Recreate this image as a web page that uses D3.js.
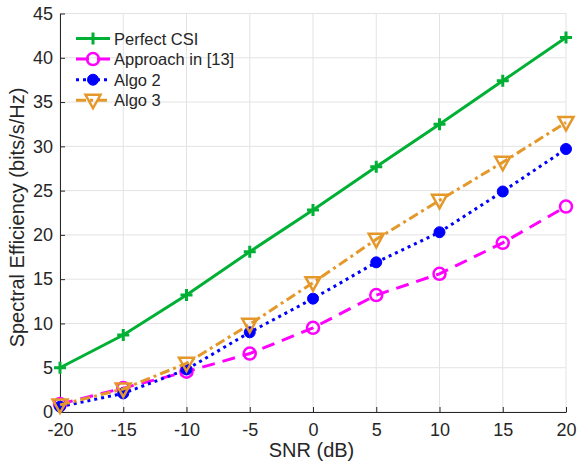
<!DOCTYPE html>
<html>
<head>
<meta charset="utf-8">
<script src="https://cdn.jsdelivr.net/npm/d3@7"></script>
<style>
  body { margin: 0; background: #fff; }
  text { font-family: "Liberation Sans", Arial, sans-serif; fill: #262626; }
</style>
</head>
<body>
<div id="chart"></div>
<script>
var snr = [-20, -15, -10, -5, 0, 5, 10, 15, 20];
var perfectCsi = [5.0, 8.7, 13.2, 18.1, 22.8, 27.7, 32.5, 37.4, 42.3];
var approach13 = [0.9, 2.7, 4.55, 6.6, 9.5, 13.2, 15.6, 19.1, 23.2];
var algo2 = [0.6, 2.1, 4.8, 9.0, 12.8, 16.9, 20.3, 24.9, 29.7];
var algo3 = [0.8, 2.6, 5.5, 9.9, 14.6, 19.5, 23.9, 28.2, 32.7];
var xTicks = [-20, -15, -10, -5, 0, 5, 10, 15, 20];
var yTicks = [0, 5, 10, 15, 20, 25, 30, 35, 40, 45];

var width = 577, height = 467;
var margin = {left: 60, right: 11, top: 13.5, bottom: 55};

var svg = d3.select('#chart').append('svg')
  .attr('width', width)
  .attr('height', height);

var x = d3.scaleLinear().domain([-20, 20]).range([margin.left, width - margin.right]);
var y = d3.scaleLinear().domain([0, 45]).range([height - margin.bottom, margin.top]);

// grid
svg.append('g').selectAll('line').data(xTicks).enter().append('line')
  .attr('x1', function(d) { return x(d); }).attr('x2', function(d) { return x(d); })
  .attr('y1', y(0)).attr('y2', y(45))
  .attr('stroke', '#e3e3e3').attr('stroke-width', 1);
svg.append('g').selectAll('line').data(yTicks).enter().append('line')
  .attr('x1', x(-20)).attr('x2', x(20))
  .attr('y1', function(d) { return y(d); }).attr('y2', function(d) { return y(d); })
  .attr('stroke', '#e3e3e3').attr('stroke-width', 1);

// axes
var fmt = function(d) { return String(d); };
var xAxis = d3.axisBottom(x).tickValues(xTicks).tickFormat(fmt).tickSizeInner(-5).tickSizeOuter(0).tickPadding(11);
var yAxis = d3.axisLeft(y).tickValues(yTicks).tickFormat(fmt).tickSizeInner(-5).tickSizeOuter(0).tickPadding(7);

var gx = svg.append('g').attr('transform', 'translate(0,' + y(0) + ')').call(xAxis);
var gy = svg.append('g').attr('transform', 'translate(' + x(-20) + ',0)').call(yAxis);
[gx, gy].forEach(function(g) {
  g.select('.domain').attr('stroke', '#262626');
  g.selectAll('.tick line').attr('stroke', '#262626');
  g.selectAll('.tick text').style('font-size', '18px').attr('fill', '#262626')
    .style('font-family', '"Liberation Sans", Arial, sans-serif');
});

svg.append('text')
  .attr('x', 311.5).attr('y', 457)
  .attr('text-anchor', 'middle')
  .style('font-size', '20px')
  .text('SNR (dB)');

svg.append('text')
  .attr('transform', 'translate(24,217.5) rotate(-90)')
  .attr('text-anchor', 'middle')
  .style('font-size', '20px')
  .text('Spectral Efficiency (bits/s/Hz)');

var series = [
  {name: 'Perfect CSI', values: perfectCsi, color: '#00b034', dash: null, marker: 'plus'},
  {name: 'Approach in [13]', values: approach13, color: '#ff00ff', dash: '13,8', marker: 'circle'},
  {name: 'Algo 2', values: algo2, color: '#0000ff', dash: '3,4', marker: 'dot'},
  {name: 'Algo 3', values: algo3, color: '#e5982a', dash: '10,4,3,4', marker: 'tri'}
];

var line = d3.line()
  .x(function(d, i) { return x(snr[i]); })
  .y(function(d) { return y(d); });

function drawMarker(g, type, cx, cy, color) {
  if (type === 'plus') {
    g.append('path')
      .attr('d', 'M' + (cx - 6) + ',' + cy + 'H' + (cx + 6) + 'M' + cx + ',' + (cy - 6) + 'V' + (cy + 6))
      .attr('stroke', color).attr('stroke-width', 3).attr('fill', 'none');
  } else if (type === 'circle') {
    g.append('circle').attr('cx', cx).attr('cy', cy).attr('r', 6)
      .attr('fill', 'none').attr('stroke', color).attr('stroke-width', 2.5);
  } else if (type === 'dot') {
    g.append('circle').attr('cx', cx).attr('cy', cy).attr('r', 5.5)
      .attr('fill', color).attr('stroke', color).attr('stroke-width', 1);
  } else if (type === 'tri') {
    g.append('path')
      .attr('d', 'M' + (cx - 7.5) + ',' + (cy - 5.5) + 'L' + (cx + 7.5) + ',' + (cy - 5.5) + 'L' + cx + ',' + (cy + 8) + 'Z')
      .attr('fill', 'none').attr('stroke', color).attr('stroke-width', 2.5).attr('stroke-linejoin', 'miter');
  }
}

series.forEach(function(s) {
  var g = svg.append('g');
  g.append('path')
    .datum(s.values)
    .attr('d', line)
    .attr('fill', 'none')
    .attr('stroke', s.color)
    .attr('stroke-width', 3)
    .attr('stroke-dasharray', s.dash);
  s.values.forEach(function(v, i) {
    drawMarker(g, s.marker, x(snr[i]), y(v), s.color);
  });
});

// legend
var legend = svg.append('g');
series.forEach(function(s, i) {
  var ly = 38.5 + i * 20.6;
  legend.append('line')
    .attr('x1', 76).attr('x2', 110).attr('y1', ly).attr('y2', ly)
    .attr('stroke', s.color).attr('stroke-width', 3)
    .attr('stroke-dasharray', s.dash);
  drawMarker(legend, s.marker, 93, ly, s.color);
  legend.append('text')
    .attr('x', 114).attr('y', ly + 6)
    .style('font-size', '16.5px')
    .attr('fill', '#000')
    .text(s.name);
});
</script>
</body>
</html>
